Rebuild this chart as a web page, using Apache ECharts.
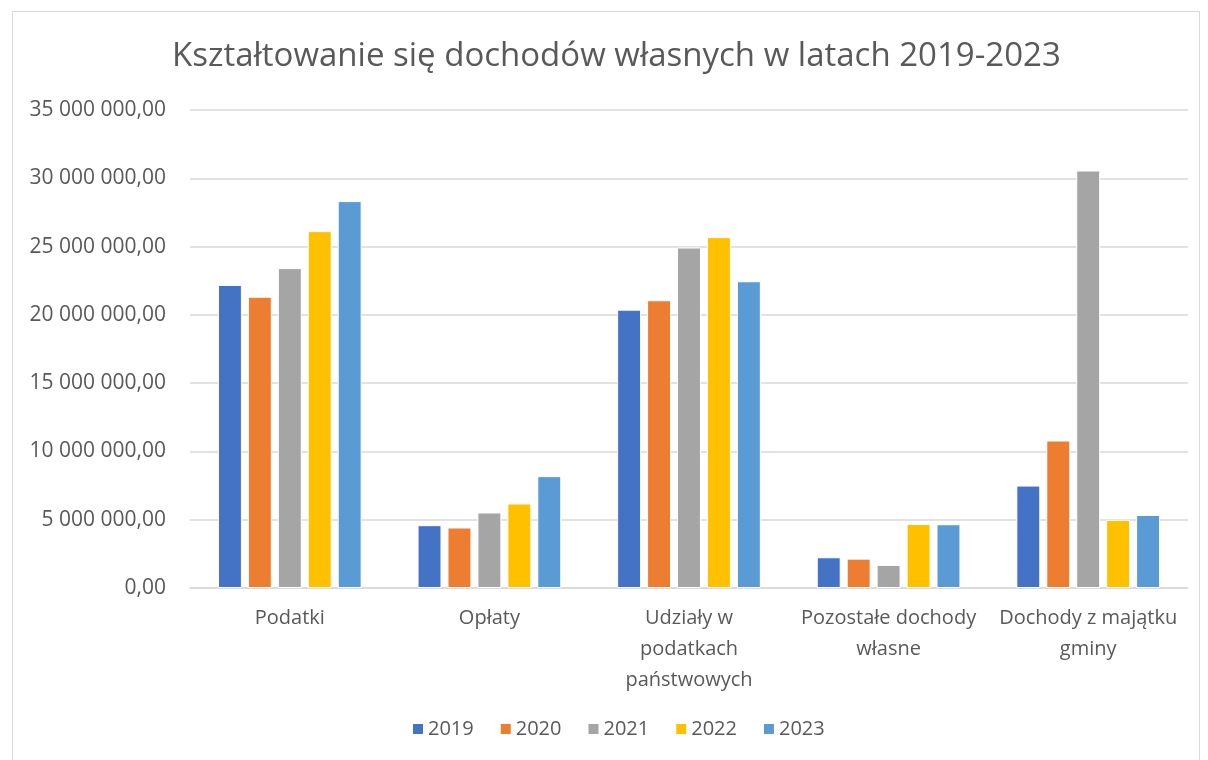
<!DOCTYPE html>
<html>
<head>
<meta charset="utf-8">
<script src="https://cdn.jsdelivr.net/npm/echarts@6/dist/echarts.min.js"></script>
<style>
html,body{margin:0;padding:0;background:#fff;}
#chart{width:1208px;height:760px;}
</style>
</head>
<body>
<div id="chart"></div>
<script>
const titleText = 'Kształtowanie się dochodów własnych w latach 2019-2023';
const categories = ['Podatki', 'Opłaty', 'Udziały w\npodatkach\npaństwowych', 'Pozostałe dochody\nwłasne', 'Dochody z majątku\ngminy'];
const years = ['2019', '2020', '2021', '2022', '2023'];
const v2019 = [22190000, 4600000, 20380000, 2250000, 7500000];
const v2020 = [21330000, 4430000, 21070000, 2150000, 10800000];
const v2021 = [23420000, 5530000, 24930000, 1690000, 30570000];
const v2022 = [26130000, 6190000, 25690000, 4690000, 4990000];
const v2023 = [28330000, 8190000, 22460000, 4670000, 5350000];
const yearValues = [v2019, v2020, v2021, v2022, v2023];
const colors = ['#4472C4', '#ED7D31', '#A5A5A5', '#FFC000', '#5B9BD5'];

function fmt(v) {
  const s = Math.round(v).toString().replace(/\B(?=(\d{3})+(?!\d))/g, ' ');
  return s + ',00';
}

const chart = echarts.init(document.getElementById('chart'), null, {renderer: 'canvas'});
const font = '"Open Sans", "Noto Sans", sans-serif';
chart.setOption({
  animation: false,
  backgroundColor: '#fff',
  color: colors,
  graphic: [{
    type: 'rect', left: 10, top: 9, z: -1,
    shape: {width: 1187, height: 760},
    style: {fill: 'none', stroke: '#d9d9d9', lineWidth: 1}
  }],
  title: {
    text: titleText,
    left: 167,
    top: 35,
    textStyle: {fontFamily: font, fontSize: 33, fontWeight: 'normal', color: '#595959'}
  },
  legend: {
    data: years,
    bottom: 16,
    left: 406,
    itemWidth: 12,
    itemHeight: 12,
    itemGap: 25,
    icon: 'rect',
    textStyle: {fontFamily: font, fontSize: 20, color: '#595959', padding: [0, 0, 0, -1]}
  },
  grid: {left: 190, right: 20, top: 110, bottom: 172},
  xAxis: {
    type: 'category',
    data: categories,
    axisLine: {lineStyle: {color: '#d9d9d9', width: 1.5}},
    axisTick: {show: false},
    axisLabel: {interval: 0, fontFamily: font, fontSize: 20, color: '#595959', lineHeight: 31, margin: 15}
  },
  yAxis: {
    type: 'value',
    min: 0,
    max: 35000000,
    interval: 5000000,
    axisLine: {show: false},
    axisTick: {show: false},
    splitLine: {lineStyle: {color: '#d9d9d9', width: 1.5}},
    axisLabel: {fontFamily: font, fontSize: 21, color: '#595959', margin: 24, formatter: fmt}
  },
  series: years.map((y, i) => ({
    name: y,
    type: 'bar',
    data: yearValues[i],
    barGap: '25%',
    barCategoryGap: '28%',
    itemStyle: {color: colors[i], borderColor: '#fff', borderWidth: 1}
  }))
});
</script>
</body>
</html>
